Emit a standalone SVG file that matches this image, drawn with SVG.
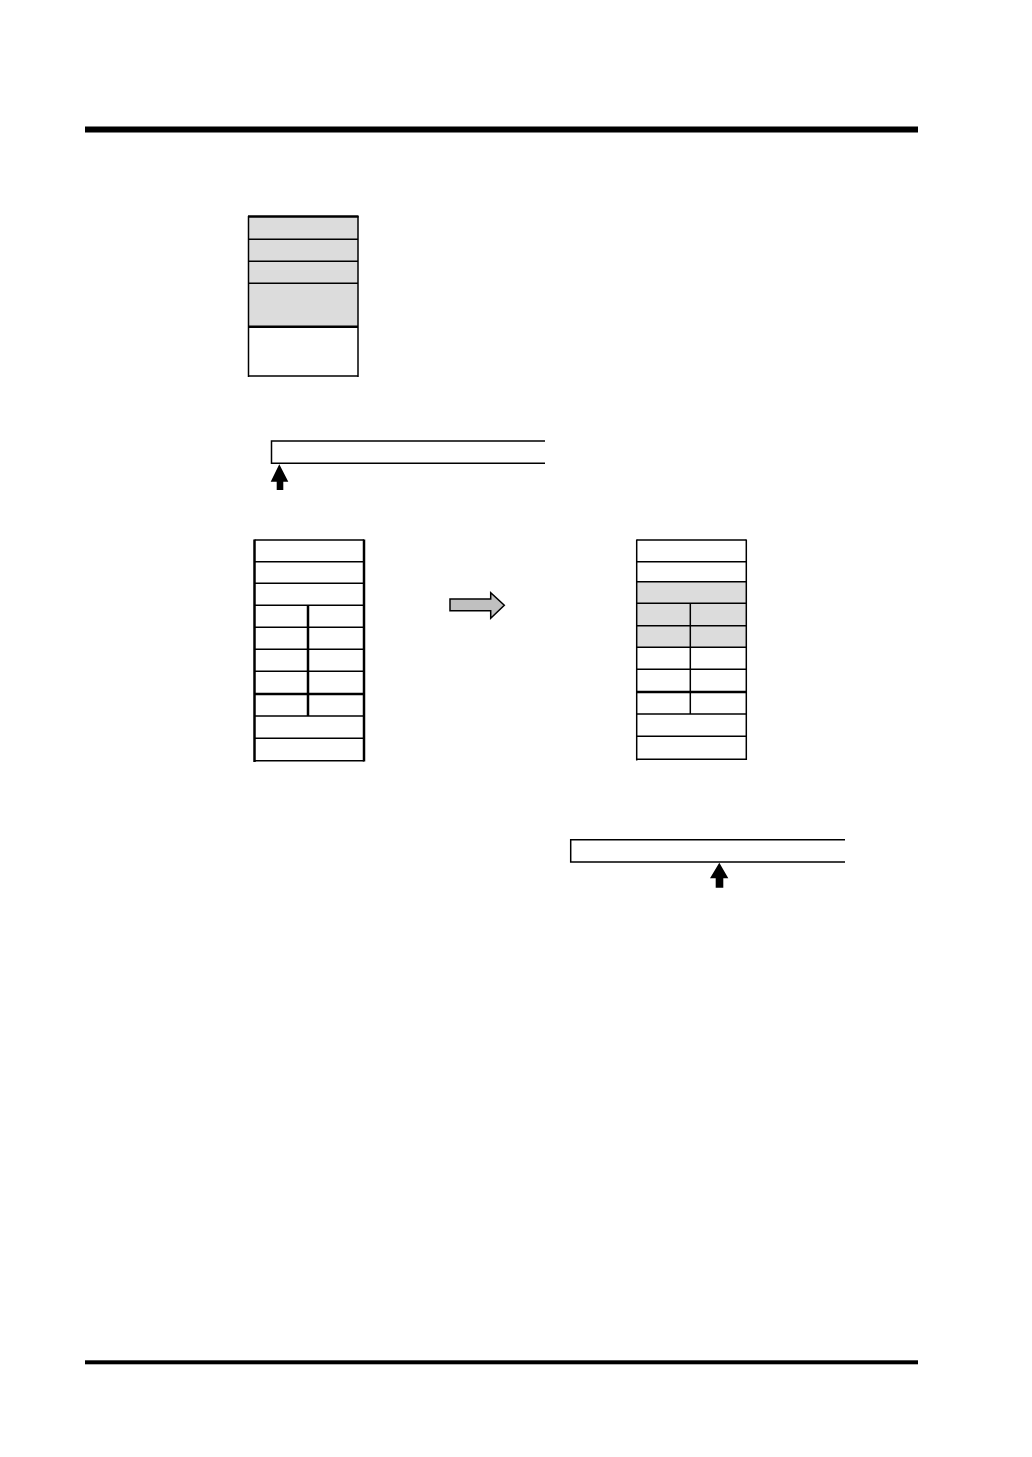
<svg xmlns="http://www.w3.org/2000/svg" width="1032" height="1457" viewBox="0 0 1032 1457">
<style>
.ln{stroke:#000;stroke-width:1.5;fill:none}
.thk{stroke:#000;stroke-width:2.5;fill:none}
.gray{fill:#dcdcdc;stroke:none}
.blk{fill:#000;stroke:none}
</style>
<rect width="1032" height="1457" fill="#fff"/>
<g id="rules">
<rect x="85" y="126.5" width="833" height="6" fill="#000"/>
<rect x="85" y="1360.3" width="833" height="4" fill="#000"/>
</g>
<g id="stack-top">
<rect class="gray" x="248.5" y="216.5" width="109.5" height="110"/>
<line class="thk" x1="248" y1="216.5" x2="358.5" y2="216.5"/>
<line class="ln" x1="248.5" y1="239.3" x2="358" y2="239.3"/>
<line class="ln" x1="248.5" y1="261.3" x2="358" y2="261.3"/>
<line class="ln" x1="248.5" y1="283.3" x2="358" y2="283.3"/>
<line class="thk" x1="248.5" y1="326.7" x2="358" y2="326.7"/>
<line class="ln" x1="248.5" y1="376" x2="358" y2="376"/>
<line class="ln" x1="248.5" y1="216" x2="248.5" y2="377"/>
<line class="ln" x1="358" y1="216" x2="358" y2="377"/>
</g>
<g id="bar-1">
<path class="ln" d="M545 441 H271.5 V463.3 H545"/>
</g>
<g id="stack-left">
<line class="ln" x1="254.5" y1="540" x2="364" y2="540"/>
<line class="ln" x1="254.5" y1="561.7" x2="364" y2="561.7"/>
<line class="ln" x1="254.5" y1="583.3" x2="364" y2="583.3"/>
<line class="ln" x1="254.5" y1="605.3" x2="364" y2="605.3"/>
<line class="ln" x1="254.5" y1="627.3" x2="364" y2="627.3"/>
<line class="ln" x1="254.5" y1="649.3" x2="364" y2="649.3"/>
<line class="ln" x1="254.5" y1="671.3" x2="364" y2="671.3"/>
<line class="thk" x1="254.5" y1="694" x2="364" y2="694"/>
<line class="ln" x1="254.5" y1="716" x2="364" y2="716"/>
<line class="ln" x1="254.5" y1="738.3" x2="364" y2="738.3"/>
<line class="ln" x1="254.5" y1="760.7" x2="364" y2="760.7"/>
<line class="thk" x1="254.5" y1="539.5" x2="254.5" y2="762"/>
<line class="thk" x1="364" y1="539.5" x2="364" y2="761.5"/>
<line class="thk" x1="308" y1="605.3" x2="308" y2="716"/>
</g>
<g id="stack-right">
<rect class="gray" x="637" y="581.7" width="109" height="65.6"/>
<line class="ln" x1="636.7" y1="540" x2="746.3" y2="540"/>
<line class="ln" x1="636.7" y1="561.7" x2="746.3" y2="561.7"/>
<line class="ln" x1="636.7" y1="581.7" x2="746.3" y2="581.7"/>
<line class="ln" x1="636.7" y1="603.3" x2="746.3" y2="603.3"/>
<line class="ln" x1="636.7" y1="625.7" x2="746.3" y2="625.7"/>
<line class="ln" x1="636.7" y1="647.3" x2="746.3" y2="647.3"/>
<line class="ln" x1="636.7" y1="669.3" x2="746.3" y2="669.3"/>
<line class="thk" x1="636.7" y1="692" x2="746.3" y2="692"/>
<line class="ln" x1="636.7" y1="714" x2="746.3" y2="714"/>
<line class="ln" x1="636.7" y1="736.3" x2="746.3" y2="736.3"/>
<line class="ln" x1="636.7" y1="759.3" x2="746.3" y2="759.3"/>
<line class="ln" x1="636.7" y1="539.5" x2="636.7" y2="760.5"/>
<line class="ln" x1="746.3" y1="539.5" x2="746.3" y2="760"/>
<line class="ln" x1="690.3" y1="603.3" x2="690.3" y2="714"/>
</g>
<g id="bar-2">
<path class="ln" d="M845 839.7 H570.7 V862 H845"/>
</g>
<g id="connectors">
<path d="M450 599 H490.7 V592.7 L504.3 605.3 L490.7 618.3 V610.7 H450 Z" fill="#c0c0c0" stroke="#000" stroke-width="1.5" stroke-linejoin="miter"/>
<path class="blk" d="M279.3 464.3 L288.3 481.7 H283.3 V490 H276.7 V481.7 H270.7 Z"/>
<path class="blk" d="M719.3 862.7 L728.3 878.3 H723.3 V887.7 H715.7 V878.3 H710 Z"/>
</g>
</svg>
